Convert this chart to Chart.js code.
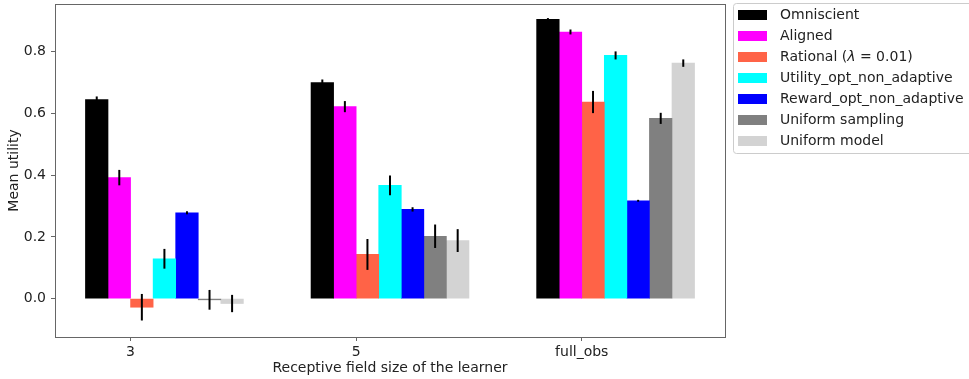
<!DOCTYPE html>
<html lang="en">
<head>
<meta charset="UTF-8">
<title>Mean utility by receptive field size</title>
<style>
    body {
        margin: 0;
        background: #ffffff;
    }
    #wrap {
        width: 969px;
        height: 379px;
    }
</style>
</head>
<body>
<div id="wrap"><canvas id="utilChart" width="969" height="379"></canvas></div>

<script src="https://cdn.jsdelivr.net/npm/chart.js"></script>
<script>
    // groups on the x axis
    const groups = ['3', '5', 'full_obs'];

    const seriesNames = [
        'Omniscient',
        'Aligned',
        'Rational (λ = 0.01)',
        'Utility_opt_non_adaptive',
        'Reward_opt_non_adaptive',
        'Uniform sampling',
        'Uniform model'
    ];
    const seriesColors = ['#000000', '#ff00ff', '#ff6347', '#00ffff', '#0000ff', '#808080', '#d3d3d3'];

    // mean utility, one value per group
    const omniscient      = [0.645, 0.700, 0.905];
    const aligned         = [0.392, 0.622, 0.864];
    const rational        = [-0.028, 0.143, 0.637];
    const utilityOpt      = [0.129, 0.367, 0.788];
    const rewardOpt       = [0.278, 0.289, 0.317];
    const uniformSampling = [-0.004, 0.202, 0.584];
    const uniformModel    = [-0.016, 0.188, 0.763];

    // half length of the error bars
    const omniscientErr      = [0.010, 0.010, 0.004];
    const alignedErr         = [0.025, 0.018, 0.008];
    const rationalErr        = [0.043, 0.050, 0.036];
    const utilityOptErr      = [0.032, 0.032, 0.013];
    const rewardOptErr       = [0.005, 0.007, 0.003];
    const uniformSamplingErr = [0.032, 0.038, 0.018];
    const uniformModelErr    = [0.028, 0.037, 0.012];

    const yTicks = [0, 0.2, 0.4, 0.6, 0.8];

    const means = [omniscient, aligned, rational, utilityOpt, rewardOpt, uniformSampling, uniformModel];
    const errs = [omniscientErr, alignedErr, rationalErr, utilityOptErr, rewardOptErr, uniformSamplingErr, uniformModelErr];

    const barWidth = 0.1;
    const axisColor = '#666666';
    const textColor = '#222222';
    const fontSize = 14;

    Chart.defaults.font.family = "'DejaVu Sans', sans-serif";
    Chart.defaults.font.size = fontSize;
    Chart.defaults.color = textColor;

    // bars sit side by side, the group tick falls on the left edge of the 3rd bar
    const datasets = means.map((vals, k) => ({
        label: seriesNames[k],
        data: vals.map((v, i) => ({ x: i + (k - 1.5) * barWidth, y: v })),
        err: errs[k],
        backgroundColor: seriesColors[k],
        borderWidth: 0,
        grouped: false,
        barPercentage: 1,
        categoryPercentage: 1
    }));

    const errorBars = {
        id: 'errorBars',
        afterDatasetsDraw(chart) {
            const ctx = chart.ctx;
            const yScale = chart.scales.y;
            ctx.save();
            ctx.strokeStyle = '#000000';
            ctx.lineWidth = 2;
            chart.data.datasets.forEach((ds, k) => {
                chart.getDatasetMeta(k).data.forEach((bar, i) => {
                    const v = ds.data[i].y;
                    const e = ds.err[i];
                    ctx.beginPath();
                    ctx.moveTo(bar.x, yScale.getPixelForValue(v + e));
                    ctx.lineTo(bar.x, yScale.getPixelForValue(v - e));
                    ctx.stroke();
                });
            });
            ctx.restore();
        }
    };

    const frame = {
        id: 'frame',
        afterDraw(chart) {
            const { ctx, chartArea } = chart;
            ctx.save();
            ctx.strokeStyle = axisColor;
            ctx.lineWidth = 1;
            ctx.strokeRect(chartArea.left + 0.5, chartArea.top + 0.5,
                chartArea.right - chartArea.left, chartArea.bottom - chartArea.top);
            ctx.restore();
        }
    };

    // legend outside the axes, on the right
    const sideLegend = {
        id: 'sideLegend',
        afterDraw(chart) {
            const ctx = chart.ctx;
            const left = chart.chartArea.right + 8;
            const top = 3;
            const rowH = 21;
            ctx.save();
            ctx.strokeStyle = '#cccccc';
            ctx.lineWidth = 1;
            ctx.beginPath();
            ctx.roundRect(left + 0.5, top + 0.5, 260, rowH * seriesNames.length + 3, 3);
            ctx.fillStyle = '#ffffff';
            ctx.fill();
            ctx.stroke();

            ctx.textBaseline = 'middle';
            seriesNames.forEach((name, k) => {
                const cy = top + 12 + k * rowH;
                ctx.fillStyle = seriesColors[k];
                ctx.fillRect(left + 5, cy - 5, 29, 10);
                ctx.fillStyle = textColor;
                let x = left + 47;
                const parts = name.split('λ');
                parts.forEach((part, j) => {
                    ctx.font = fontSize + "px 'DejaVu Sans'";
                    ctx.fillText(part, x, cy);
                    x += ctx.measureText(part).width;
                    if (j < parts.length - 1) {
                        ctx.font = "italic " + fontSize + "px 'DejaVu Sans'";
                        ctx.fillText('λ', x, cy);
                        x += ctx.measureText('λ').width;
                    }
                });
            });
            ctx.restore();
        }
    };

    const ctx = document.getElementById('utilChart').getContext('2d');
    const utilChart = new Chart(ctx, {
        type: 'bar',
        data: { datasets },
        options: {
            responsive: false,
            animation: false,
            layout: { padding: { left: 0, top: 4, right: 244, bottom: 0 } },
            plugins: {
                legend: { display: false },
                tooltip: { enabled: false }
            },
            scales: {
                x: {
                    type: 'linear',
                    min: -0.335,
                    max: 2.635,
                    offset: false,
                    grid: { offset: false, drawOnChartArea: false, drawTicks: true, tickLength: 4, tickColor: axisColor },
                    border: { display: false },
                    afterBuildTicks: scale => { scale.ticks = groups.map((g, i) => ({ value: i })); },
                    afterFit: scale => {
                        scale.height = 42;
                        scale.paddingLeft = 0;
                        scale.paddingRight = 0;
                    },
                    ticks: {
                        padding: 3,
                        maxRotation: 0,
                        callback: (value, index) => groups[index]
                    },
                    title: {
                        display: true,
                        text: 'Receptive field size of the learner',
                        padding: { top: 0, bottom: 2 }
                    }
                },
                y: {
                    min: -0.1245,
                    max: 0.9546,
                    grid: { drawOnChartArea: false, drawTicks: true, tickLength: 4, tickColor: axisColor },
                    border: { display: false },
                    afterBuildTicks: scale => { scale.ticks = yTicks.map(v => ({ value: v })); },
                    afterFit: scale => {
                        scale.width = 55;
                        scale.paddingTop = 0;
                        scale.paddingBottom = 0;
                    },
                    ticks: {
                        padding: 5,
                        callback: value => value.toFixed(1)
                    },
                    title: {
                        display: true,
                        text: 'Mean utility',
                        padding: { top: 6, bottom: 0 }
                    }
                }
            }
        },
        plugins: [errorBars, frame, sideLegend]
    });
</script>
</body>
</html>
